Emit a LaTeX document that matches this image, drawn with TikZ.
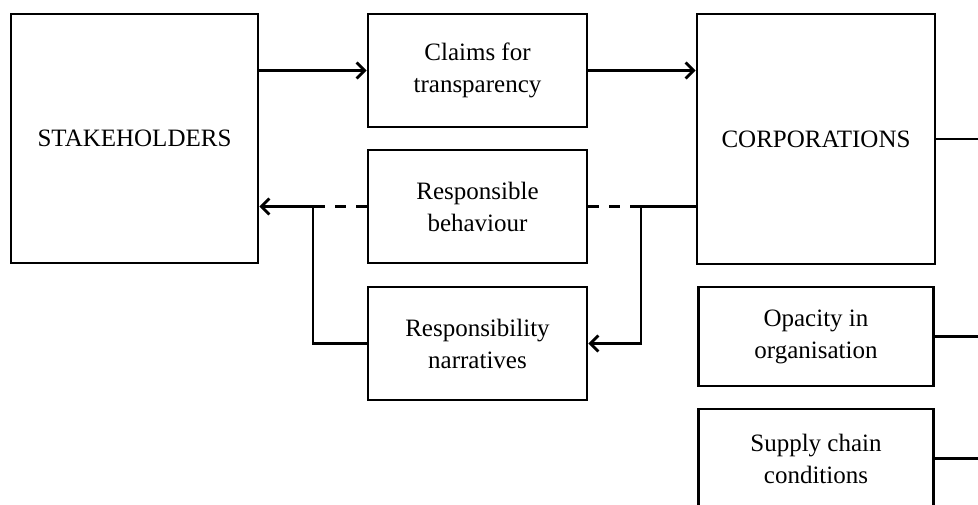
\documentclass[tikz,border=0pt]{standalone}
\usepackage{fontspec}
\setmainfont{Liberation Serif}
\usetikzlibrary{arrows.meta}

\begin{document}
\begin{tikzpicture}[x=1pt,y=-1pt,>={Straight Barb[length=8pt,width=16pt]},
                    line width=2.8pt]
  \tikzstyle{box}=[draw=black,inner sep=0pt,align=center,
                   font=\fontsize{25}{32}\selectfont]
  \tikzstyle{gapline}=[dash pattern=on 11pt off 10pt]

  \useasboundingbox (0,0) rectangle (978,504);

  \node[box,minimum width=247pt,minimum height=249pt] (stake)  at (134.5,138.5) {STAKEHOLDERS};
  \node[box,minimum width=219pt,minimum height=113pt] (claims) at (477.5,70.5)  {Claims for\\transparency};
  \node[box,minimum width=219pt,minimum height=113pt,node distance=136pt] (behav)  [below of=claims] {Responsible\\behaviour};
  \node[box,minimum width=219pt,minimum height=113pt,node distance=137pt] (narr)   [below of=behav]  {Responsibility\\narratives};
  \node[box,minimum width=238pt,minimum height=250pt] (corp)   at (816,139)     {CORPORATIONS};
  \node[box,minimum width=235pt,minimum height=99pt,node distance=197.5pt] (opac)   [below of=corp]   {Opacity in\\organisation};
  \node[box,minimum width=235pt,minimum height=99pt,node distance=122pt]   (supply) [below of=opac]   {Supply chain\\conditions};

  \coordinate (ljoin) at (313,0);
  \coordinate (rjoin) at (641,0);
  \coordinate (edge)  at (978,0);

  % claims go in, behaviour comes back
  \draw[->] (stake.east |- claims) -- (claims);
  \draw[->] (claims) -- (claims -| corp.west);
  \draw[->] (corp.west |- behav) -- (rjoin |- behav) -- (rjoin |- narr) -- (narr.east);
  \draw[<-] (stake.east |- behav) -- (ljoin |- behav) -- (ljoin |- narr) -- (narr.west);
  \draw[gapline] (behav.east) -- (rjoin |- behav);
  \draw[gapline] (behav.west) -- (ljoin |- behav);

  % lines leaving to the right
  \draw (corp.east)   -- (corp.east -| edge);
  \draw (opac.east)   -- (opac.east -| edge);
  \draw (supply.east) -- (supply.east -| edge);
\end{tikzpicture}
\end{document}
